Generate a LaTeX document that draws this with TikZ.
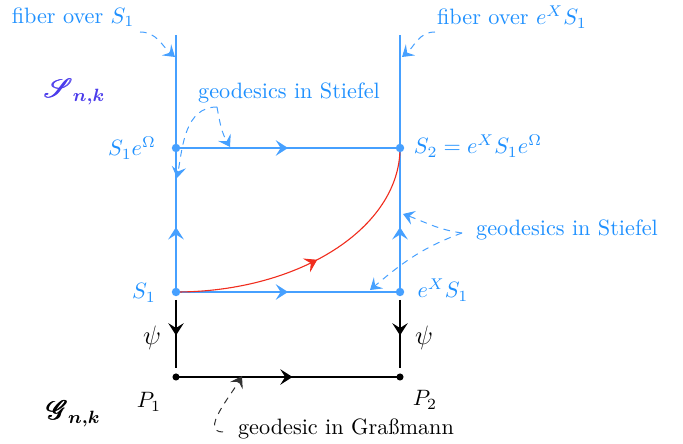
\documentclass[tikz,border=0pt]{standalone}
\usepackage{fontspec}
\usepackage{amsmath,amssymb,mathrsfs}
\usetikzlibrary{arrows.meta,decorations.markings}
\definecolor{sblue}{RGB}{30,144,255}
\definecolor{lblue}{RGB}{70,160,255}
\definecolor{sred}{RGB}{240,45,30}
\definecolor{sviolet}{RGB}{75,60,235}
\tikzset{
  >={Stealth[length=5.5pt,width=7pt,inset=2.2pt]},
  dtip/.style={-{Stealth[length=5pt,width=6.5pt,inset=2pt]}},
  lbl/.style={text=sblue, inner sep=1pt},
  blk/.style={text=black, inner sep=1pt},
  bline/.style={draw=lblue, line width=0.8pt},
  kline/.style={draw=black, line width=0.6pt},
  rline/.style={draw=sred, line width=0.5pt},
  midarrow/.style={postaction={decorate}, decoration={markings, mark=at position #1 with {\arrow{>}}}},
  dashb/.style={draw=lblue, dash pattern=on 3pt off 2.5pt, line width=0.45pt, dtip},
  dashk/.style={draw=black!80, dash pattern=on 3pt off 2.5pt, line width=0.45pt, dtip},
  dotb/.style={fill=lblue},
  dotk/.style={fill=black},
}
\begin{document}
\begin{tikzpicture}[x=0.45pt,y=0.45pt]
\useasboundingbox (0,0) rectangle (683,444);
% key points
\coordinate (T1) at (176,409);
\coordinate (T2) at (400,409);
\coordinate (A) at (176,296);
\coordinate (B) at (400,296);
\coordinate (S1) at (176,152);
\coordinate (ES) at (400,152);
\coordinate (Q1) at (176,144);
\coordinate (Q1b) at (176,76);
\coordinate (Q2) at (400,144);
\coordinate (Q2b) at (400,76);
\coordinate (P1) at (176,67);
\coordinate (P2) at (400,67);
% blue fibers and geodesics
\draw[bline] (T1) -- (A);
\draw[bline] (T2) -- (B);
\draw[bline,midarrow=0.5] (A) -- (B);
\draw[bline,midarrow=0.5] (S1) -- (ES);
\draw[bline,midarrow=0.45] (S1) -- (A);
\draw[bline,midarrow=0.45] (ES) -- (B);
% red geodesic
\draw[rline,midarrow=0.5] (S1) .. controls +(123.7,0) and +(0,-79.5) .. (B);
% projections
\draw[kline,midarrow=0.52] (Q1) -- (Q1b);
\draw[kline,midarrow=0.52] (Q2) -- (Q2b);
\draw[kline,midarrow=0.52] (P1) -- (P2);
% dots
\fill[dotb] (A) circle (1.9pt);
\fill[dotb] (B) circle (1.9pt);
\fill[dotb] (S1) circle (1.9pt);
\fill[dotb] (ES) circle (1.9pt);
\fill[dotk] (P1) circle (1.6pt);
\fill[dotk] (P2) circle (1.6pt);
% labels
\node[lbl] (lfib1) at (73,427) {fiber over $S_1$};
\node[lbl] (lfib2) at (512,427) {fiber over $e^XS_1$};
\node[text=sviolet, inner sep=1pt] (lS) at (75,352) {\large$\pmb{\mathscr{S}}_{\boldsymbol{n,k}}$};
\node[lbl] (lgeo1) at (289,351) {geodesics in Stiefel};
\node[lbl] (lA) at (132,296) {$S_1e^\Omega$};
\node[lbl] (lB) at (478,298) {$S_2=e^XS_1e^\Omega$};
\node[lbl] (lgeo2) at (567,214) {geodesics in Stiefel};
\node[lbl] (lS1) at (144,151) {$S_1$};
\node[lbl] (lES) at (443,154) {$e^XS_1$};
\node[blk] (psi1) at (152,106) {\large$\psi$};
\node[blk] (psi2) at (424,106) {\large$\psi$};
\node[blk] (lP1) at (149,42) {$P_1$};
\node[blk] (lP2) at (425,44) {$P_2$};
\node[blk] (lG) at (74,30) {\large$\pmb{\mathscr{G}}_{\boldsymbol{n,k}}$};
\node[blk] (lgr) at (346,15) {geodesic in Graßmann};
% dashed pointers
\coordinate (c1s) at (140,412);
\coordinate (c1e) at (175,387);
\coordinate (c2s) at (435,412);
\coordinate (c2e) at (402,387);
\coordinate (c3s) at (217,337);
\coordinate (c3e) at (177,266);
\coordinate (c4e) at (230,297);
\coordinate (c5s) at (462,211);
\coordinate (c5e) at (403,230);
\coordinate (c6e) at (370,154);
\coordinate (c7s) at (223,12);
\coordinate (c7e) at (242,68);
\draw[dashb] (c1s) to[out=0,in=140] (c1e);
\draw[dashb] (c2s) to[out=180,in=40] (c2e);
\draw[dashb] (c3s) to[out=180,in=80] (c3e);
\draw[dashb] (c3s) to[out=-80,in=120] (c4e);
\draw[dashb] (c5s) to[out=172,in=-20] (c5e);
\draw[dashb] (c5s) to[out=200,in=40] (c6e);
\draw[dashk] (c7s) to[out=180,in=-120] (c7e);
\end{tikzpicture}
\end{document}
